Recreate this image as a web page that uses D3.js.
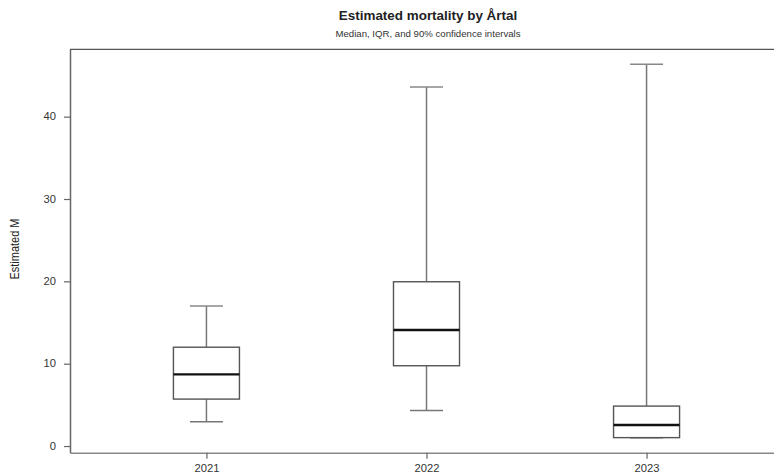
<!DOCTYPE html>
<html>
<head>
<meta charset="utf-8">
<script src="https://cdn.jsdelivr.net/npm/d3@7"></script>
<style>
  html, body { margin: 0; padding: 0; background: #fff; }
  svg { display: block; font-family: "Liberation Sans", Arial, sans-serif; }
</style>
</head>
<body>
<svg id="chart" width="774" height="474"></svg>
<script>
// Yearly estimates of mortality: 90% interval ends, quartiles and median
const years    = ["2021", "2022", "2023"];
const ciLow    = [2.95, 4.3, 1.0];
const q1       = [5.7, 9.75, 1.02];
const medians  = [8.7, 14.1, 2.55];
const q3       = [12.0, 19.95, 4.85];
const ciHigh   = [17.0, 43.6, 46.35];
const yTicks   = [0, 10, 20, 30, 40];

const rows = years.map((y, i) => ({
  year: y, pos: i + 1,
  lo: ciLow[i], q1: q1[i], med: medians[i], q3: q3[i], hi: ciHigh[i]
}));

const svg = d3.select("#chart");

// Plot region (the right side runs past the window edge)
const plotLeft = 70, plotRight = 783, plotTop = 49.3, plotBottom = 452.7;
// Text is drawn slightly widened horizontally
const sx = 1.12;

const x = d3.scaleLinear().domain([0.38, 3.62]).range([plotLeft, plotRight]);
const y = d3.scaleLinear().domain([-0.81, 48.18]).range([plotBottom, plotTop]);

const boxHalf = 0.15, capHalf = 0.075;

// Frame: top line plus axes
svg.append("line")
  .attr("x1", plotLeft).attr("x2", plotRight)
  .attr("y1", plotTop).attr("y2", plotTop)
  .attr("stroke", "#555").attr("stroke-width", 1.3);

const yAxis = svg.append("g")
  .attr("transform", `translate(${plotLeft},0)`)
  .call(d3.axisLeft(y).tickValues(yTicks).tickSize(6).tickSizeOuter(0));
yAxis.select(".domain").attr("stroke", "#666").attr("stroke-width", 1.5);
yAxis.selectAll(".tick line").attr("stroke", "#666").attr("stroke-width", 1.2);
yAxis.selectAll(".tick text")
  .attr("x", -12.5)
  .attr("transform", `scale(${sx},1)`)
  .attr("fill", "#333").attr("font-size", 10)
  .attr("font-family", "Liberation Sans, Arial, sans-serif");

const xAxis = svg.append("g")
  .attr("transform", `translate(0,${plotBottom})`)
  .call(d3.axisBottom(x).tickValues(rows.map(d => d.pos))
    .tickFormat((d, i) => years[i]).tickSize(6).tickPadding(6.5).tickSizeOuter(0));
xAxis.select(".domain").attr("stroke", "#888").attr("stroke-width", 1.5);
xAxis.selectAll(".tick line").attr("stroke", "#666").attr("stroke-width", 1.2);
xAxis.selectAll(".tick text")
  .attr("transform", `scale(${sx},1)`)
  .attr("fill", "#333").attr("font-size", 10)
  .attr("font-family", "Liberation Sans, Arial, sans-serif");

// Boxes
const g = svg.append("g");
const box = g.selectAll("g.box").data(rows).join("g").attr("class", "box");

// whiskers
box.append("line")
  .attr("x1", d => x(d.pos)).attr("x2", d => x(d.pos))
  .attr("y1", d => y(d.q3)).attr("y2", d => y(d.hi))
  .attr("stroke", "#777").attr("stroke-width", 1.5);
box.append("line")
  .attr("x1", d => x(d.pos)).attr("x2", d => x(d.pos))
  .attr("y1", d => y(d.q1)).attr("y2", d => y(d.lo))
  .attr("stroke", "#777").attr("stroke-width", 1.5);
// caps
box.append("line")
  .attr("x1", d => x(d.pos - capHalf)).attr("x2", d => x(d.pos + capHalf))
  .attr("y1", d => y(d.hi)).attr("y2", d => y(d.hi))
  .attr("stroke", "#888").attr("stroke-width", 1.5);
box.append("line")
  .attr("x1", d => x(d.pos - capHalf)).attr("x2", d => x(d.pos + capHalf))
  .attr("y1", d => y(d.lo)).attr("y2", d => y(d.lo))
  .attr("stroke", "#777").attr("stroke-width", 1.5);
// IQR box
box.append("rect")
  .attr("x", d => x(d.pos - boxHalf))
  .attr("width", d => x(d.pos + boxHalf) - x(d.pos - boxHalf))
  .attr("y", d => y(d.q3))
  .attr("height", d => y(d.q1) - y(d.q3))
  .attr("fill", "#fff").attr("stroke", "#555").attr("stroke-width", 1.4);
// median
box.append("line")
  .attr("x1", d => x(d.pos - boxHalf)).attr("x2", d => x(d.pos + boxHalf))
  .attr("y1", d => y(d.med)).attr("y2", d => y(d.med))
  .attr("stroke", "#111").attr("stroke-width", 2.4);

// Titles, centred over the plot region
const cx = (plotLeft + plotRight) / 2 + 1.5;
svg.append("text")
  .attr("transform", `translate(${cx},20) scale(${sx},1)`)
  .attr("text-anchor", "middle")
  .attr("font-size", 12).attr("font-weight", "bold").attr("fill", "#222")
  .text("Estimated mortality by Årtal");
svg.append("text")
  .attr("transform", `translate(${cx},36.5) scale(${sx},1)`)
  .attr("text-anchor", "middle")
  .attr("font-size", 8.6).attr("fill", "#333")
  .text("Median, IQR, and 90% confidence intervals");

// Y axis title
svg.append("text")
  .attr("transform", `translate(18.5,249) rotate(-90) scale(1,${sx})`)
  .attr("text-anchor", "middle")
  .attr("font-size", 11).attr("fill", "#222")
  .text("Estimated M");
</script>
</body>
</html>
